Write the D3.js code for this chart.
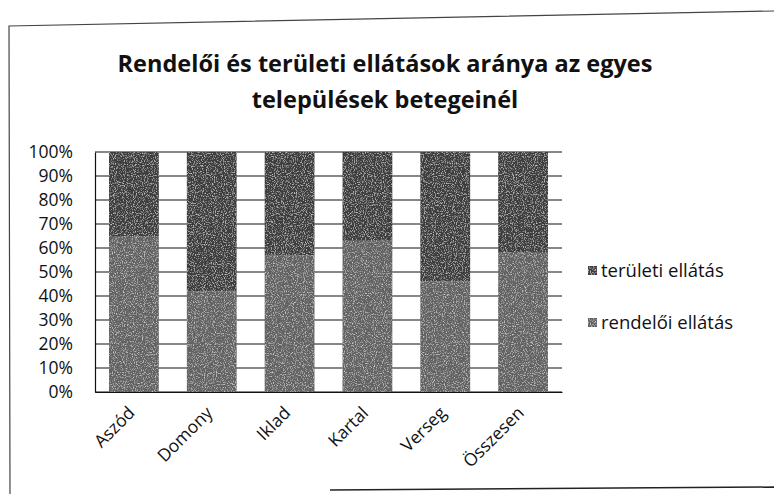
<!DOCTYPE html>
<html>
<head>
<meta charset="utf-8">
<script src="https://cdn.jsdelivr.net/npm/d3@7"></script>
<style>
  body { margin: 0; background: #fff; }
  text { font-family: "Open Sans", "Noto Sans", sans-serif; fill: #111; }
</style>
</head>
<body>
<div id="chart"></div>
<script>
// települések es a ket ellatas aranya (%)
var categories = ["Aszód", "Domony", "Iklad", "Kartal", "Verseg", "Összesen"];
var rendeloi = [65, 42, 57, 63, 46, 58];
var teruleti = [35, 58, 43, 37, 54, 42];
var seriesNames = ["rendelői ellátás", "területi ellátás"];
var yTicks = [0, 10, 20, 30, 40, 50, 60, 70, 80, 90, 100];

var width = 774, height = 494;
var plot = {left: 95, right: 562, top: 152, bottom: 392};

var svg = d3.select("#chart").append("svg")
    .attr("width", width)
    .attr("height", height);

// scan-like grain for the bars
var defs = svg.append("defs");
var f = defs.append("filter").attr("id", "grain")
    .attr("x", 0).attr("y", 0).attr("width", 1).attr("height", 1);
f.append("feTurbulence").attr("type", "fractalNoise")
    .attr("baseFrequency", 0.9).attr("numOctaves", 2).attr("seed", 3).attr("result", "n");
f.append("feColorMatrix").attr("in", "n").attr("type", "matrix")
    .attr("values", "0 0 0 0 1  0 0 0 0 1  0 0 0 0 1  1.6 0 0 0 -0.8")
    .attr("result", "w");
f.append("feComposite").attr("in", "w").attr("in2", "SourceGraphic").attr("operator", "in").attr("result", "wm");
f.append("feMerge").selectAll("feMergeNode")
    .data(["SourceGraphic", "wm"]).enter().append("feMergeNode").attr("in", function(d) { return d; });

var g = svg.append("g");

// outer border (scanned page edge, a bit tilted)
g.append("path")
    .attr("d", "M10,494 L9,26 L774,11")
    .attr("fill", "none").attr("stroke", "#444").attr("stroke-width", 1.2);
g.append("line")
    .attr("x1", 330).attr("x2", 774).attr("y1", 490).attr("y2", 487)
    .attr("stroke", "#222").attr("stroke-width", 1.4);

// title
g.append("text").attr("x", 385).attr("y", 72)
    .attr("text-anchor", "middle").attr("font-size", 23.5).attr("font-weight", "bold")
    .text("Rendelői és területi ellátások aránya az egyes");
g.append("text").attr("x", 385).attr("y", 108)
    .attr("text-anchor", "middle").attr("font-size", 23.5).attr("font-weight", "bold")
    .text("települések betegeinél");

var x = d3.scaleBand()
    .domain(categories)
    .range([plot.left, plot.right])
    .paddingInner(0.36)
    .paddingOuter(0.18);

var y = d3.scaleLinear()
    .domain([0, 100])
    .range([plot.bottom, plot.top]);

// gridlines
g.append("g").selectAll("line")
    .data(yTicks)
    .enter().append("line")
    .attr("x1", plot.left).attr("x2", plot.right)
    .attr("y1", function(d) { return y(d); })
    .attr("y2", function(d) { return y(d); })
    .attr("stroke", "#111").attr("stroke-width", 1.2);

// y axis
var yAxis = g.append("g")
    .attr("transform", "translate(" + plot.left + ",0)")
    .call(d3.axisLeft(y).tickValues(yTicks).tickSize(0).tickPadding(22)
        .tickFormat(function(d) { return d + "%"; }));
yAxis.select(".domain").attr("stroke", "#111").attr("stroke-width", 1.2);
yAxis.selectAll("text").attr("font-size", 17.5).attr("font-family", "Open Sans, sans-serif").attr("fill", "#111");

// stacked bars
var rows = categories.map(function(c, i) {
    return {cat: c, "rendelői ellátás": rendeloi[i], "területi ellátás": teruleti[i]};
});
var stack = d3.stack().keys(seriesNames)(rows);
var colors = {"rendelői ellátás": "#626262", "területi ellátás": "#3e3e3e"};

g.append("g").selectAll("g")
    .data(stack)
    .enter().append("g")
    .attr("fill", function(d) { return colors[d.key]; })
    .selectAll("rect")
    .data(function(d) { return d; })
    .enter().append("rect")
    .attr("x", function(d) { return x(d.data.cat); })
    .attr("y", function(d) { return y(d[1]); })
    .attr("width", x.bandwidth())
    .attr("height", function(d) { return y(d[0]) - y(d[1]); })
    .attr("filter", "url(#grain)");

// x axis labels
var xAxis = g.append("g")
    .attr("transform", "translate(0," + plot.bottom + ")")
    .call(d3.axisBottom(x).tickSize(0).tickPadding(0));
xAxis.select(".domain").attr("stroke", "#111").attr("stroke-width", 1.2);
xAxis.selectAll("text")
    .attr("font-size", 17.5).attr("font-family", "Open Sans, sans-serif").attr("fill", "#111")
    .attr("text-anchor", "end")
    .attr("dy", 0)
    .attr("transform", "translate(2,22) rotate(-45)");

// legend
var legend = g.append("g").selectAll("g")
    .data(seriesNames.slice().reverse())
    .enter().append("g")
    .attr("transform", function(d, i) { return "translate(588," + (277 + i * 52) + ")"; });
legend.append("rect")
    .attr("x", 0).attr("y", -11).attr("width", 9).attr("height", 9)
    .attr("fill", function(d) { return colors[d]; })
    .attr("filter", "url(#grain)");
legend.append("text")
    .attr("x", 13).attr("y", 0)
    .attr("font-size", 18.5)
    .text(function(d) { return d; });
</script>
</body>
</html>
